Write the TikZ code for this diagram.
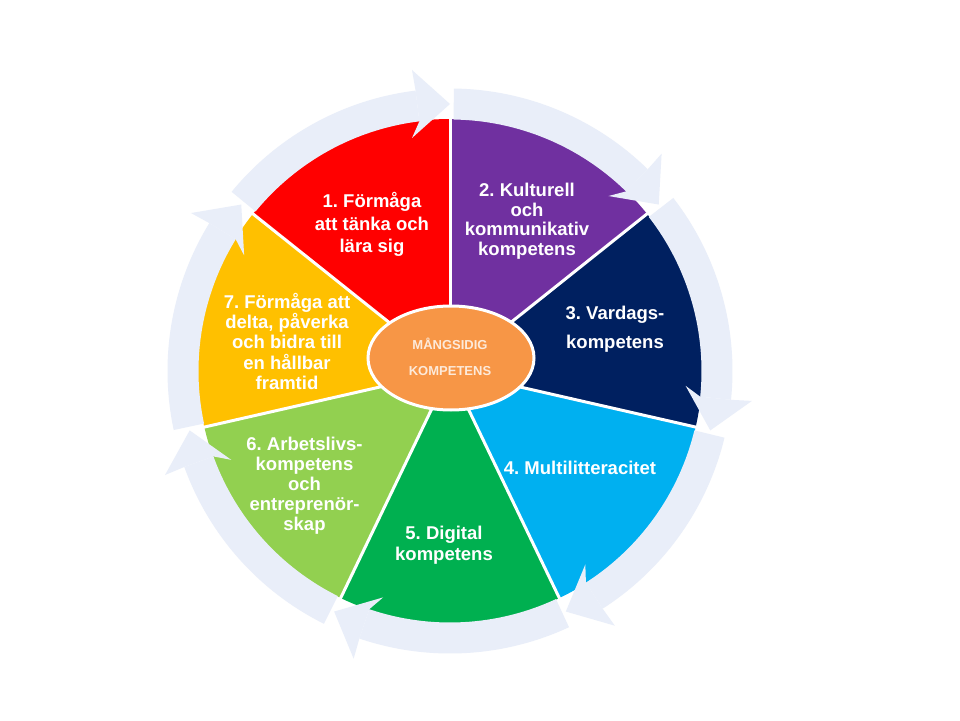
\documentclass[tikz,border=0pt]{standalone}
\usepackage{fontspec}
\setmainfont{Liberation Sans}
\usetikzlibrary{calc}
\frenchspacing
\definecolor{cRed}{RGB}{255,0,0}
\definecolor{cPurple}{RGB}{112,48,160}
\definecolor{cNavy}{RGB}{0,32,96}
\definecolor{cCyan}{RGB}{0,176,240}
\definecolor{cGreen}{RGB}{0,176,80}
\definecolor{cLGreen}{RGB}{146,208,80}
\definecolor{cYellow}{RGB}{255,192,0}
\definecolor{cOrange}{RGB}{247,150,70}
\definecolor{cRing}{RGB}{233,238,249}
\definecolor{cCream}{RGB}{253,234,218}
\begin{document}
\frenchspacing
\begin{tikzpicture}[x=1pt,y=1pt,
  lbl/.style={text=white, align=center, inner sep=0pt},
  sep/.style={white, line width=3pt},
  ring/.style={fill=cRing},
  hub/.style={fill=cOrange, draw=white, line width=3pt},
  hubtext/.style={text=cCream, inner sep=0pt, font=\bfseries\fontsize{13}{15}\selectfont}]
\useasboundingbox (-450,-349) rectangle (510,371);
\fill[white] (-450,-349) rectangle (510,371);
% sectors
\foreach \c [count=\i from 0] in {cRed,cPurple,cNavy,cCyan,cGreen,cLGreen,cYellow} {
  \pgfmathsetmacro\a{141.4286-51.4286*\i}
  \pgfmathsetmacro\b{\a-51.4286}
  \fill[\c] (0,0) -- (\a:252) arc[start angle=\a, end angle=\b, radius=252] -- cycle;
}
% separators
\foreach \i in {0,...,6} {
  \draw[sep] (0,0) -- ({90-51.4286*\i}:252.5);
}
% ring arrows
\foreach \i in {0,...,6} {
  \pgfmathsetmacro\a{141.4286-51.4286*\i}
  \pgfmathsetmacro\b{\a-51.4286}
  \pgfmathsetmacro\e{\b+7}
  \pgfmathsetmacro\s{\a-0.8}
  \pgfmathsetmacro\bp{\b+90}
  \pgfmathsetmacro\bm{\b+180}
  \fill[ring] (\s:251.5) arc[start angle=\s, end angle=\e, radius=251.5]
     -- (\e:282.5) arc[start angle=\e, end angle=\s, radius=282.5] -- cycle;
  \fill[ring] (\b:267) -- ($(\b:267)+(\bp:38)+(\b:34)$) -- (\e:282.5)
     -- (\e:251.5) -- ($(\b:267)+(\bp:38)+(\bm:34)$) -- cycle;
}
% hub
\draw[hub] (1,13) ellipse [x radius=83, y radius=52];
\node[hubtext] (h1) at (0,27) {MÅNGSIDIG};
\node[hubtext] (h2) at (0,0) {KOMPETENS};
% labels
\node[lbl, font=\bfseries\fontsize{18.5}{22.5}\selectfont] (t1) at (-78,146.5) {1. Förmåga\\att tänka och\\lära sig};
\node[lbl, font=\bfseries\fontsize{18.5}{19.8}\selectfont] (t2) at (77,149.8) {2. Kulturell\\och\\kommunikativ\\kompetens};
\node[lbl, font=\bfseries\fontsize{18.5}{28.6}\selectfont] (t3) at (165,41.7) {3. Vardags-\\kompetens};
\node[lbl, font=\bfseries\fontsize{18.5}{22}\selectfont] (t4) at (130,-97) {4. Multilitteracitet};
\node[lbl, font=\bfseries\fontsize{18.5}{21.4}\selectfont] (t5) at (-6,-174.3) {5. Digital\\kompetens};
\node[lbl, font=\bfseries\fontsize{18.5}{20}\selectfont] (t6) at (-145.5,-115) {6. Arbetslivs-\\kompetens\\och\\entreprenör-\\skap};
\node[lbl, font=\bfseries\fontsize{18.5}{20.4}\selectfont] (t7) at (-163,29.7) {7. Förmåga att\\delta, påverka\\och bidra till\\en hållbar\\framtid};
\end{tikzpicture}
\end{document}
